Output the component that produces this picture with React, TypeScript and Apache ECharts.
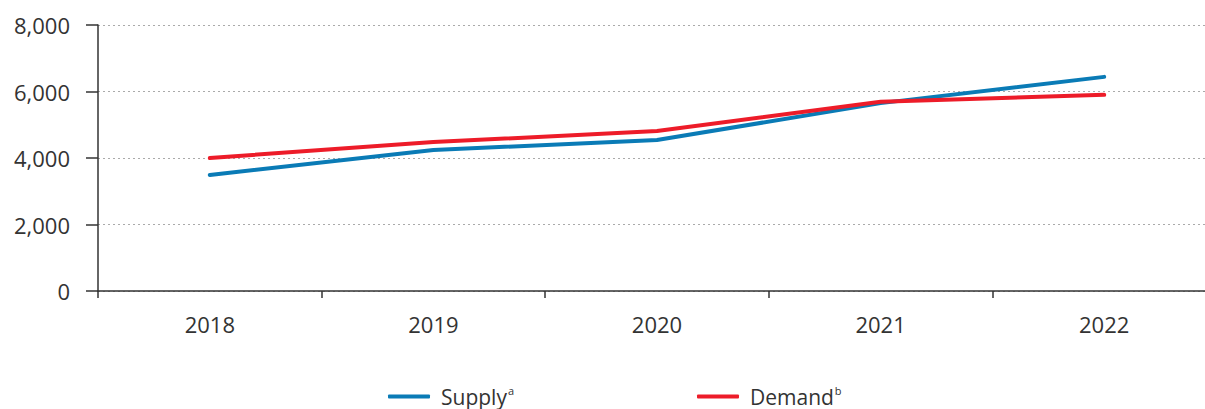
import React, { useEffect, useRef } from "react";
import * as echarts from "echarts";

const years = ["2018", "2019", "2020", "2021", "2022"];
const supply = [3490, 4240, 4540, 5650, 6440];
const demand = [4000, 4480, 4810, 5690, 5900];
const yTicks = { min: 0, max: 8000, interval: 2000 };

const FONT = "'Open Sans', Lato, sans-serif";
const TEXT = "#333333";

export default function App() {
  const ref = useRef<HTMLDivElement>(null);
  useEffect(() => {
    const chart = echarts.init(ref.current!, null, { renderer: "svg" });
    const legendBase = {
      orient: "horizontal",
      top: 380,
      itemWidth: 42,
      itemHeight: 4,
      icon: "roundRect",
      textStyle: {
        fontFamily: FONT,
        fontSize: 21,
        color: TEXT,
        rich: {
          n: { fontFamily: FONT, fontSize: 21, color: TEXT, lineHeight: 26, padding: [0, 0, 0, 6] },
          s: { fontFamily: FONT, fontSize: 11, color: TEXT, lineHeight: 26, padding: [0, 0, 12, 1] },
        },
      },
      itemGap: 10,
    };
    chart.setOption({
      animation: false,
      textStyle: { fontFamily: FONT },
      grid: { left: 98, right: 0, top: 25, bottom: 118, containLabel: false },
      legend: [
        {
          ...legendBase,
          left: 383,
          data: ["Supply"],
          formatter: () => "{n|Supply}{s|a}",
        },
        {
          ...legendBase,
          left: 692,
          data: ["Demand"],
          formatter: () => "{n|Demand}{s|b}",
        },
      ],
      xAxis: {
        type: "category",
        data: years,
        boundaryGap: true,
        axisLine: { show: true, lineStyle: { color: TEXT, width: 1.5 } },
        axisTick: { show: true, length: 7, lineStyle: { color: TEXT, width: 1.5 } },
        axisLabel: { fontFamily: FONT, fontSize: 22, color: TEXT, margin: 22 },
      },
      yAxis: {
        type: "value",
        min: yTicks.min,
        max: yTicks.max,
        interval: yTicks.interval,
        axisLine: { show: true, lineStyle: { color: TEXT, width: 1.5 } },
        axisTick: { show: true, length: 12, inside: false, lineStyle: { color: TEXT, width: 1.5 } },
        axisLabel: {
          fontFamily: FONT,
          fontSize: 22,
          color: TEXT,
          margin: 28,
          formatter: (v: number) => v.toLocaleString("en-US"),
        },
        splitLine: { show: true, lineStyle: { color: "#aaaaaa", type: [2, 3], width: 1 } },
      },
      series: [
        {
          name: "Supply",
          type: "line",
          data: supply,
          symbol: "none",
          lineStyle: { color: "#0a7bb6", width: 4, cap: "round" },
          itemStyle: { color: "#0a7bb6" },
          z: 2,
        },
        {
          name: "Demand",
          type: "line",
          data: demand,
          symbol: "none",
          lineStyle: { color: "#ed1c29", width: 4, cap: "round" },
          itemStyle: { color: "#ed1c29" },
          z: 3,
        },
      ],
    });
    return () => chart.dispose();
  }, []);
  return (
    <div
      style={{ position: "absolute", left: 0, top: 0, width: 1205, height: 409, overflow: "hidden", background: "#fff" }}
    >
      <div ref={ref} style={{ width: 1216, height: 409 }} />
    </div>
  );
}
